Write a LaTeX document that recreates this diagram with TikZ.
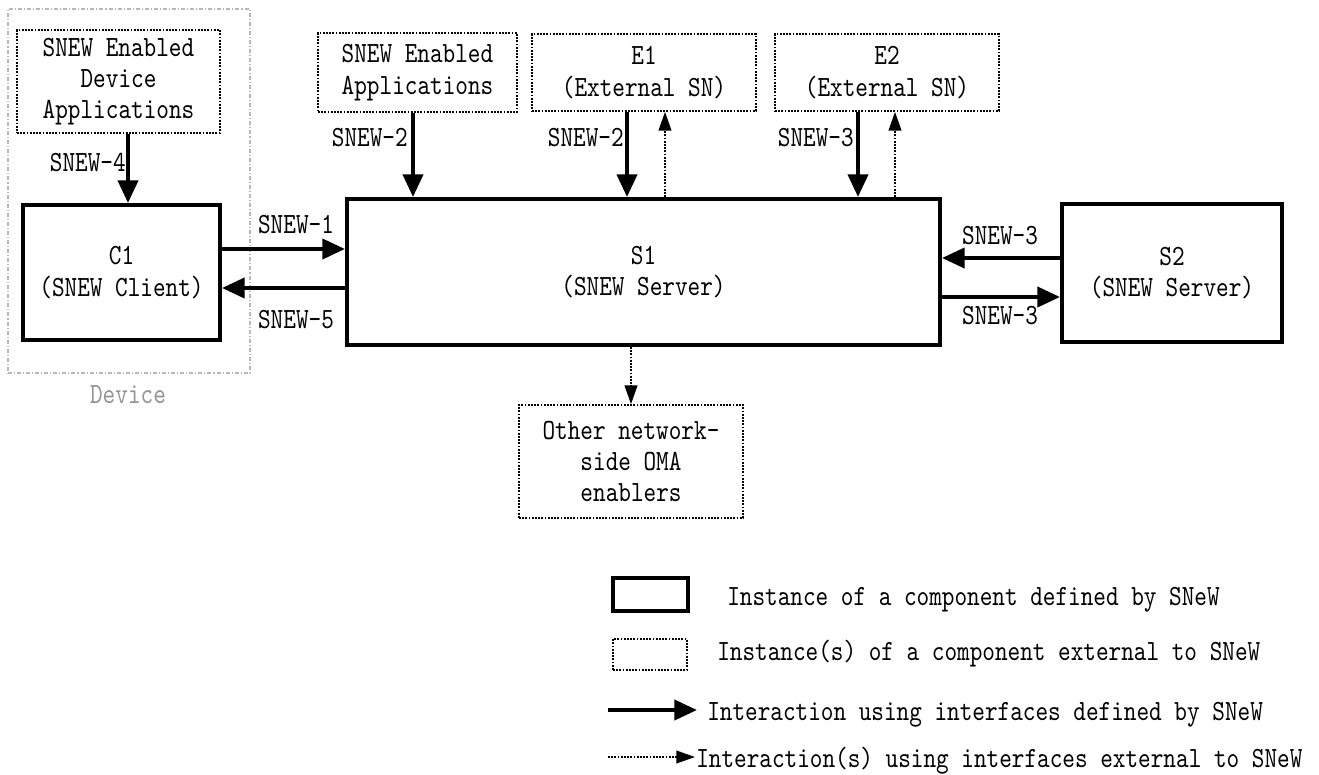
\documentclass[tikz,border=0pt]{standalone}
\usepackage{fontspec}
\usepackage{tikz}
\usetikzlibrary{arrows.meta,calc}
\newfontfamily\snewfont[Extension=.otf,FakeStretch=0.82]{lmmono10-regular}
\definecolor{devgray}{gray}{0.58}
\definecolor{framegray}{gray}{0.72}
\tikzstyle{snewbox} = [draw, line width=3pt, inner sep=0pt, align=center]
\tikzstyle{extbox} = [draw, line width=1.3pt, dash pattern=on 1.4pt off 1pt, inner sep=0pt, align=center]
\tikzstyle{devframe} = [draw=framegray, line width=0.8pt, dash pattern=on 3pt off 1.5pt on 0.8pt off 1.5pt, inner sep=0pt]
\tikzstyle{ifarrow} = [line width=3pt, -{Triangle[length=17pt,width=15pt]}]
\tikzstyle{extarrow} = [line width=1.3pt, dash pattern=on 1.4pt off 1pt, -{Triangle[length=14pt,width=9.5pt]}]
\tikzstyle{lbl} = [inner sep=0pt]

\begin{document}
\begin{tikzpicture}[x=0.75pt, y=-0.75pt, font=\snewfont\fontsize{22}{23.5}\selectfont]
\useasboundingbox (0,0) rectangle (1319,774);
% device side
\node[devframe, minimum width=181.5pt, minimum height=273pt] (device) at (129,191) {};
\node[lbl, text=devgray] (devlbl) at (128,395) {Device};
\node[extbox, minimum width=152.25pt, minimum height=77.25pt] (devapp) at (118.5,81.5) {SNEW Enabled\\Device\\Applications};
\node[snewbox, minimum width=147.75pt, minimum height=101.25pt] (c1) at (121.5,272.5) {C1\\(SNEW Client)};
% network side
\node[extbox, minimum width=149.25pt, minimum height=59.25pt] (apps) at (417.5,72.5) {SNEW Enabled\\Applications};
\node[extbox, minimum width=168pt, minimum height=57.75pt] (e1) at (644,72.5) {E1\\(External SN)};
\node[extbox, minimum width=168pt, minimum height=57.75pt] (e2) at (887,72.5) {E2\\(External SN)};
\node[snewbox, minimum width=444.75pt, minimum height=109.5pt] (s1) at (643.5,272) {S1\\(SNEW Server)};
\node[snewbox, minimum width=165pt, minimum height=103.5pt] (s2) at (1172,273) {S2\\(SNEW Server)};
\node[extbox, minimum width=168pt, minimum height=84.75pt] (other) at (631,461.5) {Other network-\\side OMA\\enablers};

% interfaces
\coordinate (a4) at ($(devapp.south)+(9.5,0)$);
\draw[ifarrow] (a4) -- (a4 |- c1.north);
\coordinate (a2) at ($(apps.south)+(-4.5,0)$);
\draw[ifarrow] (a2) -- (a2 |- s1.north);
\coordinate (e1in) at ($(e1.south)+(-17,0)$);
\coordinate (e1out) at ($(e1.south)+(21,0)$);
\draw[ifarrow] (e1in) -- (e1in |- s1.north);
\draw[extarrow] (e1out |- s1.north) -- (e1out);
\coordinate (e2in) at ($(e2.south)+(-29,0)$);
\coordinate (e2out) at ($(e2.south)+(8,0)$);
\draw[ifarrow] (e2in) -- (e2in |- s1.north);
\draw[extarrow] (e2out |- s1.north) -- (e2out);
\coordinate (a1) at ($(c1.east)+(0,-23.5)$);
\draw[ifarrow] (a1) -- (a1 -| s1.west);
\coordinate (a5) at ($(c1.east)+(0,15.5)$);
\draw[ifarrow] (a5 -| s1.west) -- (a5);
\coordinate (a3in) at ($(s2.west)+(0,-15)$);
\draw[ifarrow] (a3in) -- (a3in -| s1.east);
\coordinate (a3out) at ($(s2.west)+(0,24)$);
\draw[ifarrow] (a3out -| s1.east) -- (a3out);
\draw[extarrow] (s1.south -| other.north) -- (other.north);

% interface labels
\node[lbl, anchor=east] (l4) at (126,163) {SNEW-4};
\node[lbl, anchor=east] (l2a) at (408,138) {SNEW-2};
\node[lbl, anchor=east] (l2b) at (624,138) {SNEW-2};
\node[lbl, anchor=east] (l3a) at (854,138) {SNEW-3};
\node[lbl] (l1) at (296,225) {SNEW-1};
\node[lbl] (l5) at (296,320) {SNEW-5};
\node[lbl] (l3b) at (1000,236) {SNEW-3};
\node[lbl] (l3c) at (1000,316) {SNEW-3};

% legend
\node[snewbox, minimum width=56.25pt, minimum height=24.75pt] (keydef) at (650.5,594.5) {};
\node[lbl, anchor=base west] (keydeftxt) at (727,605) {Instance of a component defined by SNeW};
\node[extbox, minimum width=55.5pt, minimum height=23.25pt] (keyext) at (650,654.5) {};
\node[lbl, anchor=base west] (keyexttxt) at (717,660) {Instance(s) of a component external to SNeW};
\coordinate (keyif) at (608,710);
\coordinate (keyifend) at (697,710);
\draw[ifarrow] (keyif) -- (keyifend);
\node[lbl, anchor=base west] (keyiftxt) at (707,720) {Interaction using interfaces defined by SNeW};
\coordinate (keyex) at (608,757);
\coordinate (keyexend) at (695,757);
\draw[extarrow] (keyex) -- (keyexend);
\node[lbl, anchor=base west] (keyextxt) at (696,767) {Interaction(s) using interfaces external to SNeW};
\end{tikzpicture}
\end{document}
